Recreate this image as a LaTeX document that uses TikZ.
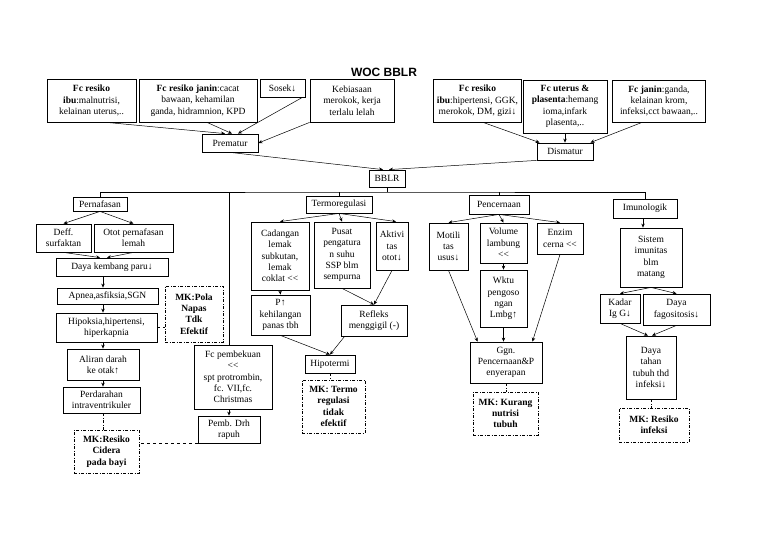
\documentclass[tikz,border=0pt]{standalone}
\usepackage{fontspec}
\setmainfont{Liberation Serif}
\newfontfamily\titlefont{Liberation Sans}
\usetikzlibrary{arrows.meta}
\tikzstyle{plain box}=[
        draw,
        line width = 0.8pt,
        rectangle,
        align = center,
        inner sep = 1pt,
        font = \fontsize{9.5}{11.3}\selectfont
    ]
\tikzstyle{mk box}=[
    plain box,
    dash pattern = on 3pt off 1.5pt on 1pt off 1.5pt,
    font = \fontsize{9.5}{11.3}\selectfont\bfseries
]
\tikzstyle{flow}=[-{Stealth[length=4pt,width=3.5pt]}, line width = 0.5pt]
\tikzstyle{mk link}=[line width = 0.5pt, dash pattern = on 3pt off 1.5pt on 1pt off 1.5pt]
\begin{document}
\begin{tikzpicture}[x=1pt, y=-1pt, line width=0.5pt]
        \useasboundingbox (0,0) rectangle (768,543);
        \node[font=\titlefont\fontsize{12}{14}\selectfont\bfseries] (title) at (384,72) {WOC BBLR};

        % faktor resiko
        \node[plain box, minimum width=89pt, minimum height=43pt] (fcibu) at (91.5,100.5) {\textbf{Fc resiko}\\\textbf{ibu}:malnutrisi,\\kelainan uterus,..};
        \node[plain box, minimum width=118pt, minimum height=43pt] (fcjanin) at (198,100.5) {\textbf{Fc resiko janin}:cacat\\bawaan, kehamilan\\ganda, hidramnion, KPD};
        \node[plain box, minimum width=45pt, minimum height=18pt] (sosek) at (282.5,88) {Sosek↓};
        \node[plain box, minimum width=84pt, minimum height=43pt] (kebiasaan) at (352,100.5) {Kebiasaan\\merokok, kerja\\terlalu lelah};
        \node[plain box, minimum width=88pt, minimum height=43pt] (fcibu2) at (477.5,101) {\textbf{Fc resiko}\\\textbf{ibu}:hipertensi, GGK,\\merokok, DM, gizi↓};
        \node[plain box, minimum width=84pt, minimum height=53pt] (fcuterus) at (565,106.5) {\textbf{Fc uterus \&}\\\textbf{plasenta}:hemang\\ioma,infark\\plasenta,..};
        \node[plain box, minimum width=93pt, minimum height=42pt] (fcjanin2) at (659,101) {\textbf{Fc janin}:ganda,\\kelainan krom,\\infeksi,cct bawaan,..};

        \node[plain box, minimum width=56pt, minimum height=18pt] (prematur) at (230,143) {Prematur};
        \node[plain box, minimum width=56pt, minimum height=17pt] (dismatur) at (565,151.5) {Dismatur};
        \node[plain box, minimum width=36pt, minimum height=17pt] (bblr) at (387,178.5) {BBLR};
        \coordinate (bus) at (387,192);

        % pernafasan
        \node[plain box, minimum width=54pt, minimum height=14pt] (pernafasan) at (100,204) {Pernafasan};
        \node[plain box, minimum width=55pt, minimum height=28pt] (deff) at (63.5,238) {Deff.\\surfaktan};
        \node[plain box, minimum width=79pt, minimum height=28pt] (otot) at (133.5,238) {Otot pernafasan\\lemah};
        \node[plain box, minimum width=112pt, minimum height=18pt] (dayakembang) at (112,267) {Daya kembang paru↓};
        \node[plain box, minimum width=101pt, minimum height=16pt] (apnea) at (107.5,296) {Apnea,asfiksia,SGN};
        \node[plain box, minimum width=101pt, minimum height=29pt] (hipoksia) at (106.5,327.5) {Hipoksia,hipertensi,\\hiperkapnia};
        \node[plain box, minimum width=72pt, minimum height=31pt] (aliran) at (103,364.5) {Aliran darah\\ke otak↑};
        \node[plain box, minimum width=77pt, minimum height=26pt] (perdarahan) at (101.5,400) {Perdarahan\\intraventrikuler};
        \node[mk box, minimum width=65pt, minimum height=43pt] (mkcidera) at (106.5,451.5) {MK:Resiko\\Cidera\\pada bayi};
        \node[mk box, minimum width=58pt, minimum height=56pt] (mkpola) at (194,314) {MK:Pola\\Napas\\Tdk\\Efektif};
        \node[plain box, minimum width=78pt, minimum height=64pt] (pembekuan) at (233,377) {Fc pembekuan\\<{}<\\spt protrombin,\\fc. VII,fc.\\Christmas};
        \node[plain box, minimum width=62pt, minimum height=27pt] (pembdrh) at (229,429.5) {Pemb. Drh\\rapuh};

        % termoregulasi
        \node[plain box, minimum width=66pt, minimum height=17pt] (termo) at (339,204.5) {Termoregulasi};
        \node[plain box, minimum width=58pt, minimum height=68pt] (cadangan) at (280,256) {Cadangan\\lemak\\subkutan,\\lemak\\coklat <{}<};
        \node[plain box, minimum width=56pt, minimum height=66pt] (pusat) at (342,255) {Pusat\\pengatura\\n suhu\\SSP blm\\sempurna};
        \node[plain box, minimum width=32pt, minimum height=48pt] (aktivitas) at (392,246) {Aktivi\\tas\\otot↓};
        \node[plain box, minimum width=59pt, minimum height=40pt] (panas) at (280.5,315) {P↑\\kehilangan\\panas tbh};
        \node[plain box, minimum width=66pt, minimum height=31pt] (refleks) at (374,320.5) {Refleks\\menggigil (-)};
        \node[plain box, minimum width=50pt, minimum height=18pt] (hipotermi) at (330,364) {Hipotermi};
        \node[mk box, minimum width=63pt, minimum height=53pt] (mktermo) at (333.5,406.5) {MK: Termo\\regulasi\\tidak\\efektif};

        % pencernaan
        \node[plain box, minimum width=60pt, minimum height=19pt] (cerna) at (499,204.5) {Pencernaan};
        \node[plain box, minimum width=39pt, minimum height=47pt] (motilitas) at (448.5,246.5) {Motili\\tas\\usus↓};
        \node[plain box, minimum width=47pt, minimum height=40pt] (volume) at (503.5,243) {Volume\\lambung\\<{}<};
        \node[plain box, minimum width=46pt, minimum height=31pt] (enzim) at (560,238.5) {Enzim\\cerna <{}<};
        \node[plain box, minimum width=47pt, minimum height=57pt] (wktu) at (503.5,298.5) {Wktu\\pengoso\\ngan\\Lmbg↑};
        \node[plain box, minimum width=72pt, minimum height=41pt] (ggn) at (506,362.5) {Ggn.\\Pencernaan\&P\\enyerapan};
        \node[mk box, minimum width=65pt, minimum height=43pt] (mknutrisi) at (505.5,413.5) {MK: Kurang\\nutrisi\\tubuh};

        % imunologik
        \node[plain box, minimum width=64pt, minimum height=19pt] (imun) at (645,208.5) {Imunologik};
        \node[plain box, minimum width=62pt, minimum height=59pt] (sistem) at (651,257.5) {Sistem\\imunitas\\blm\\matang};
        \node[plain box, minimum width=40pt, minimum height=29pt] (kadar) at (620,308.5) {Kadar\\Ig G↓};
        \node[plain box, minimum width=67pt, minimum height=31pt] (fagosit) at (676.5,309.5) {Daya\\fagositosis↓};
        \node[plain box, minimum width=50pt, minimum height=63pt] (dayatahan) at (651,367.5) {Daya\\tahan\\tubuh thd\\infeksi↓};
        \node[mk box, minimum width=70pt, minimum height=34pt] (mkinfeksi) at (654,425) {MK: Resiko\\infeksi};

        % panah atas
        \draw[flow] ([xshift=15pt]fcibu.south) -- ([xshift=-5pt]prematur.north);
        \draw[flow] ([xshift=9pt]fcjanin.south) -- ([xshift=2pt]prematur.north);
        \draw[flow] ([xshift=-3pt]sosek.south east) -- ([xshift=8pt]prematur.north);
        \draw[flow] (kebiasaan.south west) -- (prematur.east);
        \draw[flow] ([xshift=7pt]fcibu2.south) -- ([xshift=3pt]dismatur.north west);
        \draw[flow] (fcuterus.south) -- (dismatur.north);
        \draw[flow] ([xshift=-17pt]fcjanin2.south) -- ([xshift=-3pt]dismatur.north east);
        \draw[flow] (prematur.south) -- ([xshift=-4pt]bblr.north);
        \draw[flow] (dismatur.south west) -- ([xshift=2pt]bblr.north);

        % garis cabang
        \draw (bblr.south) -- (bus);
        \draw (pernafasan.north) |- (bus) -| (imun.north);
        \draw (termo.north) -- (termo.north |- bus);
        \draw (cerna.north) -- (cerna.north |- bus);
        \draw (pembdrh.north |- pembekuan.north) -- (pembdrh.north |- bus);

        % kiri
        \draw[flow] (pernafasan.south) -- (deff.north);
        \draw[flow] (pernafasan.south) -- (otot.north);
        \draw[flow] (deff.south) -- ([xshift=-12pt]dayakembang.north);
        \draw[flow] (otot.south) -- ([xshift=-5pt]dayakembang.north);
        \draw[flow] (dayakembang.south -| aliran.north) -- (apnea.north -| aliran.north);
        \draw[flow] (apnea.south -| aliran.north) -- (hipoksia.north -| aliran.north);
        \draw[flow] (hipoksia.south -| aliran.north) -- (aliran.north);
        \draw[flow] (aliran.south) -- (perdarahan.north -| aliran.south);
        \draw[mk link] (perdarahan.south -| aliran.south) -- (mkcidera.north -| aliran.south);
        \draw[dashed] (hipoksia.east) -- (mkpola.west |- hipoksia.east);
        \draw[flow] (pembekuan.south -| pembdrh.north) -- (pembdrh.north);
        \draw[dashed] (pembdrh.south west) -- (pembdrh.south west -| mkcidera.east);

        % tengah
        \draw[flow] (termo.south) -- (cadangan.north);
        \draw[flow] (termo.south) -- (pusat.north);
        \draw[flow] (termo.south) -- ([xshift=4pt]aktivitas.north);
        \draw[flow] (cadangan.south) -- (panas.north);
        \draw[flow] (pusat.south) -- (refleks.north);
        \draw[flow] (aktivitas.south) -- (refleks.north);
        \draw[flow] (panas.south) -- (hipotermi.north);
        \draw[flow] ([xshift=4pt]refleks.south west) -- (hipotermi.north);
        \draw[mk link] (hipotermi.south) -- (hipotermi.south |- mktermo.north);

        \draw[flow] (cerna.south) -- (motilitas.north);
        \draw[flow] (cerna.south) -- (volume.north);
        \draw[flow] (cerna.south) -- (enzim.north);
        \draw[flow] (volume.south) -- (wktu.north);
        \draw[flow] (motilitas.south) -- ([xshift=8pt]ggn.north west);
        \draw[flow] (wktu.south) -- (wktu.south |- ggn.north);
        \draw[flow] (enzim.south) -- ([xshift=-10pt]ggn.north east);
        \draw[mk link] (ggn.south) -- (ggn.south |- mknutrisi.north);

        % kanan
        \draw[flow] ([xshift=-2pt]imun.south) -- ([xshift=-2pt]imun.south |- sistem.north);
        \draw[flow] (sistem.south) -- (kadar.north);
        \draw[flow] (sistem.south) -- (fagosit.north);
        \draw[flow] (kadar.south) -- ([xshift=-3pt]dayatahan.north);
        \draw[flow] (fagosit.south) -- ([xshift=1pt]dayatahan.north);
        \draw[mk link] (dayatahan.south) -- (dayatahan.south |- mkinfeksi.north);

    \end{tikzpicture}
\end{document}
